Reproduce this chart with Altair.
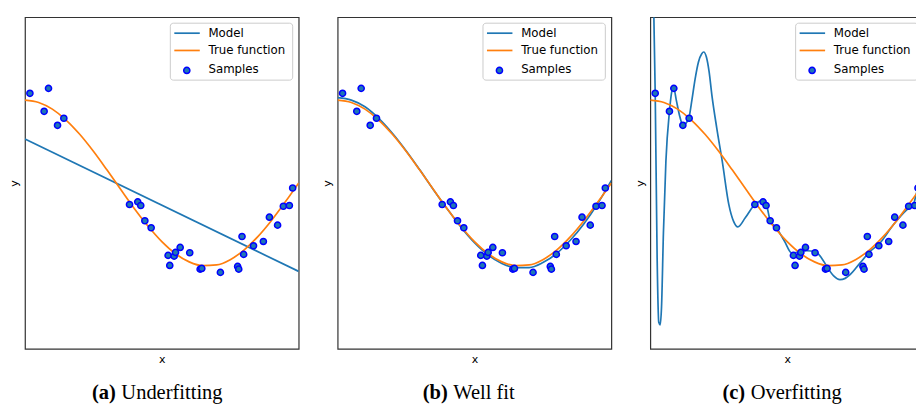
import altair as alt
import pandas as pd

# ---- data ----
sample_x = [0.018, 0.070, 0.086, 0.119, 0.142, 0.382, 0.412, 0.423, 0.438, 0.461,
            0.523, 0.529, 0.545, 0.550, 0.567, 0.602, 0.640, 0.646, 0.714, 0.777,
            0.781, 0.793, 0.799, 0.835, 0.871, 0.893, 0.923, 0.944, 0.966, 0.978]
sample_y = [1.082, 0.865, 1.142, 0.696, 0.781, -0.259, -0.227, -0.271, -0.455, -0.540,
            -0.873, -0.994, -0.882, -0.837, -0.777, -0.841, -1.039, -1.030, -1.078, -1.006,
            -1.039, -0.645, -0.861, -0.757, -0.705, -0.412, -0.508, -0.280, -0.271, -0.060]

true_x = [0.0, 0.05, 0.1, 0.15, 0.2, 0.25, 0.3, 0.35, 0.4, 0.45, 0.5,
          0.55, 0.6, 0.65, 0.7, 0.75, 0.8, 0.85, 0.9, 0.95, 1.0]
true_y = [1.000, 0.972, 0.891, 0.760, 0.588, 0.383, 0.156, -0.078, -0.309, -0.522, -0.707,
          -0.853, -0.951, -0.997, -0.988, -0.924, -0.809, -0.649, -0.454, -0.233, 0.000]

deg1_x = [0.0, 1.0]
deg1_y = [0.53, -1.066]

deg4_x = [0.0, 0.05, 0.1, 0.15, 0.2, 0.25, 0.3, 0.35, 0.4, 0.45, 0.5,
          0.55, 0.6, 0.65, 0.7, 0.75, 0.8, 0.85, 0.9, 0.95, 1.0]
deg4_y = [1.03, 1.00, 0.92, 0.78, 0.60, 0.39, 0.16, -0.08, -0.31, -0.53, -0.72,
          -0.87, -0.97, -1.02, -1.02, -0.96, -0.85, -0.69, -0.49, -0.25, 0.03]

deg15_x = [0.000, 0.010, 0.018, 0.025, 0.031, 0.036, 0.041, 0.048, 0.057, 0.070,
           0.080, 0.086, 0.095, 0.108, 0.119, 0.130, 0.142, 0.152, 0.164, 0.176,
           0.188, 0.195, 0.205, 0.215, 0.225, 0.243, 0.263, 0.287, 0.304, 0.320,
           0.347, 0.383, 0.414, 0.425, 0.438, 0.462, 0.490, 0.517, 0.547, 0.572,
           0.602, 0.625, 0.645, 0.670, 0.693, 0.712, 0.730, 0.766, 0.803, 0.839,
           0.888, 0.937, 0.961, 0.971, 0.985, 1.000]
deg15_y = [6.0, 2.6, 1.08, -0.9, -1.68, -1.71, -1.5, -0.6, 0.26, 0.865,
           1.12, 1.14, 1.0, 0.8, 0.70, 0.72, 0.80, 1.0, 1.26, 1.46,
           1.56, 1.58, 1.52, 1.34, 1.06, 0.66, 0.26, -0.26, -0.46, -0.53,
           -0.42, -0.255, -0.21, -0.27, -0.45, -0.545, -0.70, -0.846, -0.825, -0.817,
           -0.825, -0.90, -1.006, -1.12, -1.166, -1.15, -1.106, -0.966, -0.825, -0.725,
           -0.504, -0.323, -0.263, -0.142, 0.05, 0.4]

legend_labels = ["Model", "True function", "Samples"]
caption_tags = ["(a)", "(b)", "(c)"]
caption_names = ["Underfitting", "Well fit", "Overfitting"]

# ---- styling ----
W, H = 274, 332
BLUE = "#1f77b4"
ORANGE = "#ff7f0e"
EDGE = "#0000ff"

xs = alt.Scale(domain=[0, 1], nice=False, zero=False)
ys = alt.Scale(domain=[-2, 2], nice=False, zero=False)
xaxis = alt.Axis(labels=False, ticks=False, domain=False, grid=False, titlePadding=4.5)
yaxis = alt.Axis(labels=False, ticks=False, domain=False, grid=False, titlePadding=5)

ONE = alt.Data(values=[{"k": 1}])


def panel(mx, my, tag, name, tag_right):
    xenc = alt.X("x:Q", scale=xs, title="x", axis=xaxis)
    yenc = alt.Y("y:Q", scale=ys, title="y", axis=yaxis)
    model = alt.Chart(pd.DataFrame({"x": mx, "y": my})).mark_line(
        color=BLUE, strokeWidth=1.7, clip=True, interpolate="monotone"
    ).encode(x=xenc, y=yenc)
    true = alt.Chart(pd.DataFrame({"x": true_x, "y": true_y})).mark_line(
        color=ORANGE, strokeWidth=1.7, clip=True, interpolate="monotone"
    ).encode(x=xenc, y=yenc)
    pts = alt.Chart(pd.DataFrame({"x": sample_x, "y": sample_y})).mark_point(
        shape="circle", filled=True, fill=BLUE, stroke=EDGE, strokeWidth=1.5,
        size=38, opacity=1, clip=True
    ).encode(x=xenc, y=yenc)

    box = alt.Chart(ONE).mark_rect(
        fill="white", fillOpacity=0.85, stroke="#cccccc", strokeWidth=1, cornerRadius=3
    ).encode(x=alt.value(145.5), x2=alt.value(268), y=alt.value(6), y2=alt.value(63))
    r1 = alt.Chart(ONE).mark_rule(color=BLUE, strokeWidth=1.7).encode(
        x=alt.value(149.5), x2=alt.value(175), y=alt.value(16))
    r2 = alt.Chart(ONE).mark_rule(color=ORANGE, strokeWidth=1.7).encode(
        x=alt.value(149.5), x2=alt.value(175), y=alt.value(33.3))
    lp = alt.Chart(ONE).mark_point(
        shape="circle", filled=True, fill=BLUE, stroke=EDGE, strokeWidth=1.5, size=38, opacity=1
    ).encode(x=alt.value(162), y=alt.value(53.3))
    texts = []
    for lab, yy in zip(legend_labels, [16, 33.3, 51.7]):
        texts.append(alt.Chart(ONE).mark_text(
            text=lab, align="left", baseline="middle", font="DejaVu Sans",
            fontSize=11.8, color="#000000"
        ).encode(x=alt.value(183.7), y=alt.value(yy)))
    cap1 = alt.Chart(ONE).mark_text(
        text=tag, align="right", baseline="alphabetic", font="Liberation Serif",
        fontSize=20.5, fontWeight="bold", color="#000000"
    ).encode(x=alt.value(tag_right), y=alt.value(382.5))
    cap2 = alt.Chart(ONE).mark_text(
        text=name, align="left", baseline="alphabetic", font="Liberation Serif",
        fontSize=20.5, color="#000000"
    ).encode(x=alt.value(tag_right + 5.5), y=alt.value(382.5))
    return alt.layer(model, true, pts, box, r1, r2, lp, *texts, cap1, cap2).properties(
        width=W, height=H)


pa = panel(deg1_x, deg1_y, caption_tags[0], caption_names[0], 91)
pb = panel(deg4_x, deg4_y, caption_tags[1], caption_names[1], 110.2)
pc = panel(deg15_x, deg15_y, caption_tags[2], caption_names[2], 95)

chart = alt.hconcat(pa, pb, pc, spacing=39, bounds="flush").properties(
    padding={"left": 8, "top": 16, "right": -9, "bottom": 0},
    background="white",
).configure_view(
    stroke="#333333", strokeWidth=1.2
).configure_axis(
    titleFont="DejaVu Sans", titleFontSize=11, titleFontWeight="normal", titleColor="#000000"
)

chart.save("out.html", embed_options={"renderer": "svg", "actions": False})
